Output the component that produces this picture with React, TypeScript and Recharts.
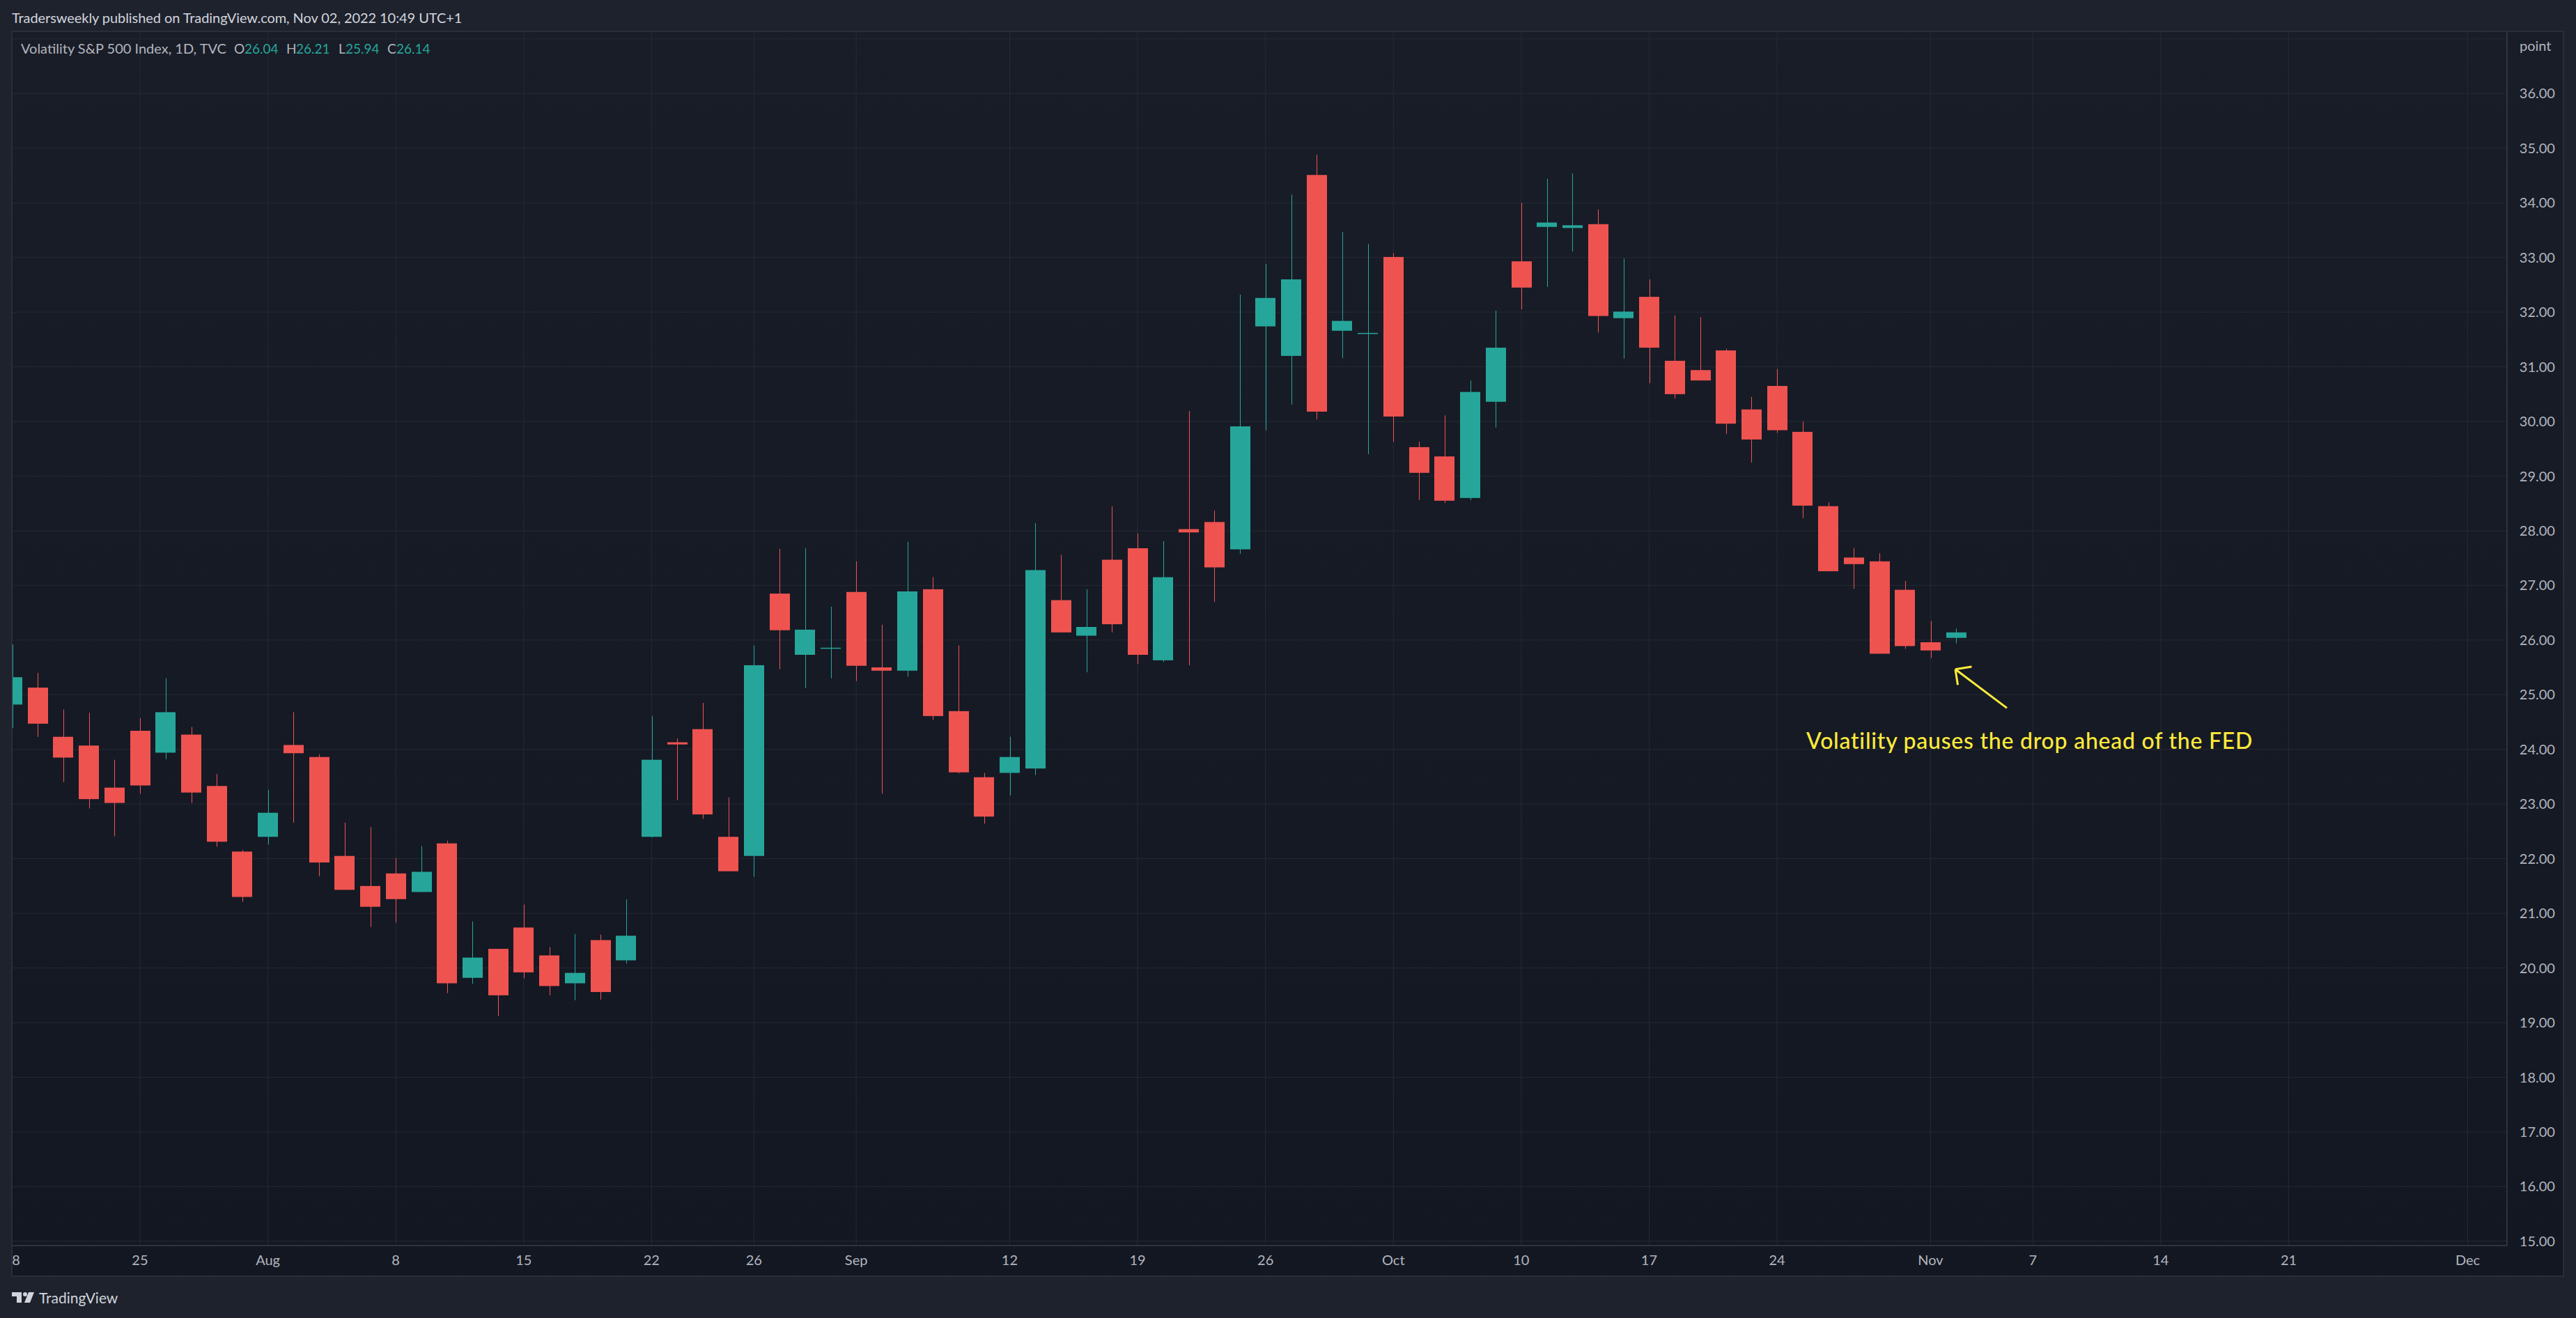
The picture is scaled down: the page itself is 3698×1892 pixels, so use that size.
import React from "react";
import { Bar, CartesianGrid, ComposedChart, XAxis, YAxis } from "recharts";

const categories = [
  "Jul 18", "Jul 19", "Jul 20", "Jul 21", "Jul 22", "Jul 25", "Jul 26", "Jul 27", "Jul 28", "Jul 29",
  "Aug 1", "Aug 2", "Aug 3", "Aug 4", "Aug 5", "Aug 8", "Aug 9", "Aug 10", "Aug 11", "Aug 12",
  "Aug 15", "Aug 16", "Aug 17", "Aug 18", "Aug 19", "Aug 22", "Aug 23", "Aug 24", "Aug 25", "Aug 26",
  "Aug 29", "Aug 30", "Aug 31", "Sep 1", "Sep 2", "Sep 6", "Sep 7", "Sep 8", "Sep 9", "Sep 12",
  "Sep 13", "Sep 14", "Sep 15", "Sep 16", "Sep 19", "Sep 20", "Sep 21", "Sep 22", "Sep 23", "Sep 26",
  "Sep 27", "Sep 28", "Sep 29", "Sep 30", "Oct 3", "Oct 4", "Oct 5", "Oct 6", "Oct 7", "Oct 10",
  "Oct 11", "Oct 12", "Oct 13", "Oct 14", "Oct 17", "Oct 18", "Oct 19", "Oct 20", "Oct 21", "Oct 24",
  "Oct 25", "Oct 26", "Oct 27", "Oct 28", "Oct 31", "Nov 1", "Nov 2", "Nov 3", "Nov 4", "Nov 7",
  "Nov 8", "Nov 9", "Nov 10", "Nov 11", "Nov 14", "Nov 15", "Nov 16", "Nov 17", "Nov 18", "Nov 21",
  "Nov 22", "Nov 23", "Nov 25", "Nov 28", "Nov 29", "Nov 30", "Dec 1", "Dec 2",
];

const opens = [
  24.82, 25.13, 24.23, 24.07, 23.3, 24.34, 23.94, 24.27, 23.33, 22.13,
  22.4, 24.08, 23.86, 22.05, 21.5, 21.73, 21.39, 22.28, 19.82, 20.35,
  20.74, 20.23, 19.72, 20.51, 20.14, 22.4, 24.13, 24.37, 22.4, 22.05,
  26.85, 25.73, 25.85, 26.88, 25.5, 25.44, 26.93, 24.7, 23.49, 23.57,
  23.65, 26.73, 26.08, 27.47, 27.68, 25.63, 28.03, 28.16, 27.66, 31.74,
  31.2, 34.51, 31.66, 31.61, 33.01, 29.53, 29.36, 28.6, 30.36, 32.93,
  33.56, 33.54, 33.61, 31.89, 32.28, 31.11, 30.94, 31.3, 30.22, 30.65,
  29.81, 28.45, 27.51, 27.44, 26.92, 25.96, 26.04,
];

const highs = [
  25.92, 25.4, 24.73, 24.67, 23.81, 24.57, 25.3, 24.41, 23.55, 22.16,
  23.26, 24.68, 23.91, 22.66, 22.58, 22.01, 22.23, 22.33, 20.85, 20.35,
  21.16, 20.38, 20.62, 20.61, 21.26, 24.61, 24.2, 24.85, 23.12, 25.9,
  27.67, 27.68, 26.61, 27.44, 26.28, 27.8, 27.15, 25.9, 23.57, 24.23,
  28.14, 27.56, 26.93, 28.45, 27.95, 27.81, 30.19, 28.37, 32.32, 32.88,
  34.15, 34.88, 33.47, 33.25, 33.08, 29.63, 30.11, 30.75, 32.03, 34.0,
  34.44, 34.54, 33.88, 32.98, 32.6, 31.94, 31.91, 31.33, 30.45, 30.96,
  30.0, 28.52, 27.68, 27.59, 27.08, 26.35, 26.21,
];

const lows = [
  24.39, 24.23, 23.4, 22.92, 22.41, 23.19, 23.82, 23.02, 22.22, 21.21,
  22.26, 22.66, 21.68, 21.43, 20.75, 20.83, 21.39, 19.54, 19.71, 19.12,
  19.81, 19.5, 19.41, 19.42, 20.08, 22.39, 23.07, 22.73, 21.77, 21.67,
  25.47, 25.12, 25.3, 25.25, 23.19, 25.33, 24.54, 23.56, 22.64, 23.16,
  23.53, 26.14, 25.41, 26.14, 25.56, 25.6, 25.54, 26.7, 27.58, 29.84,
  30.31, 30.04, 31.16, 29.4, 29.63, 28.56, 28.51, 28.56, 29.89, 32.05,
  32.46, 33.11, 31.63, 31.15, 30.7, 30.42, 30.75, 29.77, 29.25, 29.79,
  28.23, 27.26, 26.94, 25.75, 25.84, 25.67, 25.94,
];

const closes = [
  25.32, 24.47, 23.85, 23.09, 23.02, 23.34, 24.68, 23.21, 22.31, 21.3,
  22.84, 23.93, 21.93, 21.43, 21.12, 21.26, 21.76, 19.72, 20.19, 19.5,
  19.92, 19.67, 19.91, 19.56, 20.59, 23.81, 24.09, 22.81, 21.77, 25.54,
  26.18, 26.19, 25.86, 25.53, 25.44, 26.89, 24.61, 23.58, 22.77, 23.86,
  27.28, 26.14, 26.24, 26.29, 25.73, 27.15, 27.97, 27.33, 29.91, 32.26,
  32.6, 30.18, 31.84, 31.62, 30.09, 29.06, 28.55, 30.54, 31.35, 32.45,
  33.64, 33.59, 31.93, 32.01, 31.35, 30.5, 30.75, 29.96, 29.67, 29.84,
  28.46, 27.26, 27.39, 25.75, 25.89, 25.81, 26.14,
];

const xLabels: Record<string, string> = {
  "Jul 18": "18", "Jul 25": "25", "Aug 1": "Aug", "Aug 8": "8", "Aug 15": "15", "Aug 22": "22",
  "Aug 26": "26", "Sep 1": "Sep", "Sep 12": "12", "Sep 19": "19", "Sep 26": "26", "Oct 3": "Oct",
  "Oct 10": "10", "Oct 17": "17", "Oct 24": "24", "Nov 1": "Nov", "Nov 7": "7", "Nov 14": "14",
  "Nov 21": "21", "Dec 1": "Dec",
};
const xTicks = Object.keys(xLabels);
const yTicks = [15, 16, 17, 18, 19, 20, 21, 22, 23, 24, 25, 26, 27, 28, 29, 30, 31, 32, 33, 34, 35, 36, 37];

const rows = categories.map((date, i) => ({
  date,
  open: opens[i],
  high: highs[i],
  low: lows[i],
  close: closes[i],
  range: i < opens.length ? [lows[i], highs[i]] : null,
}));

const FONT = "Lato, 'Open Sans', sans-serif";
const UP = "#26a69a";
const DOWN = "#ef5350";
const TEXT = "#b2b5be";

const Candle = (props: any) => {
  const { x, y, width, height, payload } = props;
  if (!payload || !payload.range || !height) return null;
  const { open, high, low, close } = payload;
  const perUnit = height / (high - low);
  const top = y + (high - Math.max(open, close)) * perUnit;
  const bottom = y + (high - Math.min(open, close)) * perUnit;
  const color = close >= open ? UP : DOWN;
  return (
    <g>
      <rect x={Math.round(x + width / 2)} y={y} width={1} height={height} fill={color} />
      <rect x={Math.round(x)} y={top} width={width} height={Math.max(bottom - top, 1.5)} fill={color} />
    </g>
  );
};

const App = () => {
  return (
    <div
      style={{
        position: "absolute",
        left: 0,
        top: 0,
        width: 3698,
        height: 1892,
        overflow: "hidden",
        background: "linear-gradient(#191d28, #131722)",
      }}
    >
      <div style={{ position: "absolute", left: -0.86, top: 0 }}>
        <ComposedChart
          width={3698.86}
          height={1892}
          data={rows}
          margin={{ top: 44, right: 0, bottom: 0, left: 0 }}
        >
          <CartesianGrid stroke="#262a35" strokeWidth={1} />
          <XAxis
            dataKey="date"
            ticks={xTicks}
            interval={0}
            height={104}
            padding={{ left: 0, right: 1.26 }}
            tickSize={0}
            tickMargin={14}
            tickFormatter={(v: string) => xLabels[v]}
            tick={{ fontFamily: FONT, fontSize: 20, fill: TEXT }}
            axisLine={{ stroke: "#363a45", strokeWidth: 1.5 }}
            tickLine={false}
          />
          <YAxis
            orientation="right"
            type="number"
            width={99}
            domain={[14.921, 37.151]}
            allowDataOverflow
            ticks={yTicks}
            interval={0}
            tickSize={0}
            tickMargin={18}
            tickFormatter={(v: number) => (v === 37 ? "" : v.toFixed(2))}
            tick={{ fontFamily: FONT, fontSize: 20, fill: TEXT }}
            axisLine={{ stroke: "#363a45", strokeWidth: 1.5 }}
            tickLine={false}
          />
          <Bar dataKey="range" barSize={29} shape={Candle} isAnimationActive={false} />
        </ComposedChart>
      </div>

      {/* page frame round the chart */}
      <div
        style={{
          position: "absolute",
          left: 0,
          top: 0,
          width: 3698,
          height: 1892,
          boxSizing: "border-box",
          borderStyle: "solid",
          borderColor: "#1e222d",
          borderWidth: "44px 17px 59px 16px",
          pointerEvents: "none",
        }}
      >
        <div style={{ width: "100%", height: "100%", boxSizing: "border-box", border: "2px solid #2a2e39" }} />
      </div>

      <svg width={3698} height={1892} style={{ position: "absolute", left: 0, top: 0 }} fontFamily={FONT}>
        <text x={17} y={33} fontSize={20} letterSpacing={-0.07} fill="#d1d4dc">
          Tradersweekly published on TradingView.com, Nov 02, 2022 10:49 UTC+1
        </text>
        <text x={30} y={77} fontSize={20} fill={TEXT}>
          Volatility S&amp;P 500 Index, 1D, TVC
        </text>
        <text x={336} y={77} fontSize={19} fill={TEXT}>O</text>
        <text x={351} y={77} fontSize={19} fill={UP}>26.04</text>
        <text x={411} y={77} fontSize={19} fill={TEXT}>H</text>
        <text x={425} y={77} fontSize={19} fill={UP}>26.21</text>
        <text x={486} y={77} fontSize={19} fill={TEXT}>L</text>
        <text x={496} y={77} fontSize={19} fill={UP}>25.94</text>
        <text x={556} y={77} fontSize={19} fill={TEXT}>C</text>
        <text x={569} y={77} fontSize={19} fill={UP}>26.14</text>
        <text x={3617} y={73} fontSize={20} fill={TEXT}>point</text>

        <text x={2593} y={1075} fontSize={32} letterSpacing={0.75} fontWeight={500} fill="#ffeb3b">
          Volatility pauses the drop ahead of the FED
        </text>
        <g stroke="#ffeb3b" strokeWidth={3} fill="none">
          <line x1={2881} y1={1016.4} x2={2807} y2={960.8} />
          <line x1={2807} y1={960.8} x2={2830.5} y2={957} />
          <line x1={2807} y1={960.8} x2={2810.5} y2={983.3} />
        </g>

        {/* TradingView logo */}
        <g fill="#d1d4dc">
          <path d="M17 1855h14v15h-7v-9h-7z" />
          <circle cx={36} cy={1858} r={3} />
          <path d="M41 1855h8l-6 15h-8z" />
        </g>
        <text x={56} y={1871} fontSize={21} fill="#d1d4dc">TradingView</text>
      </svg>
    </div>
  );
};

export default App;
